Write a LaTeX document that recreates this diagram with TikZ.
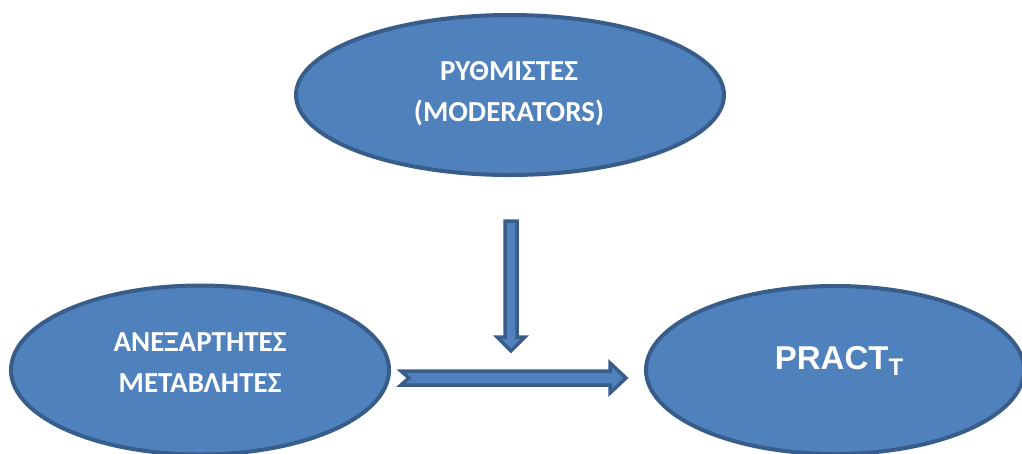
\documentclass[tikz,border=0pt]{standalone}
\usepackage{fontspec}
\setmainfont{Carlito}
\newfontfamily\arialfont{Liberation Sans}
\usetikzlibrary{shapes.geometric}
\definecolor{boxfill}{HTML}{4F81BD}
\definecolor{boxline}{HTML}{385D8A}
\tikzset{
  oval/.style={ellipse, draw=boxline, fill=boxfill, line width=4pt, inner sep=0pt},
  blockarrow/.style={draw=boxline, fill=boxfill, line width=3.5pt, line join=miter},
  greektext/.style={text=white, font=\fontsize{29}{34}\bfseries\selectfont, anchor=base, inner sep=0pt},
}
\begin{document}
\begin{tikzpicture}[x=1pt, y=-1pt]
  \useasboundingbox (0,0) rectangle (1022,453);

  % the three ovals
  \node[oval, minimum width=428pt, minimum height=160pt] (mod) at (510,95) {};
  \node[oval, minimum width=378pt, minimum height=169pt] (indep) at (200,370) {};
  \node[oval, minimum width=378pt, minimum height=168pt] (pract) at (835,370) {};

  % labels
  \node[greektext] (modA) at (509,80) {ΡΥΘΜΙΣΤΕΣ};
  \node[greektext] (modB) at (509,121) {(MODERATORS)};
  \node[greektext] (indA) at (200,351) {ΑΝΕΞΑΡΤΗΤΕΣ};
  \node[greektext] (indB) at (200,392) {ΜΕΤΑΒΛΗΤΕΣ};
  \node[text=white, anchor=base, inner sep=0pt,
        font=\arialfont\fontsize{33}{40}\bfseries\selectfont] (practT)
        at (839,369) {PRACT\raisebox{-6pt}{\fontsize{24}{28}\selectfont T}};

  % block arrow down from the moderators
  \draw[blockarrow] (505,221) -- (517,221) -- (517,337) -- (525,337)
      -- (511,351) -- (497,337) -- (505,337) -- cycle;

  % notched block arrow towards the outcome
  \draw[blockarrow] (401,371) -- (610,371) -- (610,363) -- (626,378)
      -- (610,393) -- (610,385) -- (401,385) -- (409,378) -- cycle;
\end{tikzpicture}
\end{document}
